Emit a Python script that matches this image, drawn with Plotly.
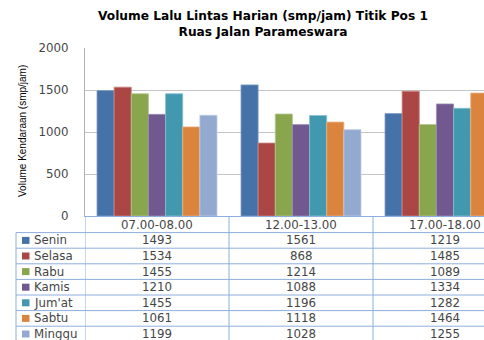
import plotly.graph_objects as go

categories = ["07.00-08.00", "12.00-13.00", "17.00-18.00"]
days = ["Senin", "Selasa", "Rabu", "Kamis", "Jum'at", "Sabtu", "Minggu"]
senin = [1493, 1561, 1219]
selasa = [1534, 868, 1485]
rabu = [1455, 1214, 1089]
kamis = [1210, 1088, 1334]
jumat = [1455, 1196, 1282]
sabtu = [1061, 1118, 1464]
minggu = [1199, 1028, 1255]
series = [senin, selasa, rabu, kamis, jumat, sabtu, minggu]
colors = ["#4572a7", "#aa4643", "#89a54e", "#71588f", "#4198af", "#db843d", "#93a9cf"]
borders = ["#7f9fc7", "#c98583", "#b1c68c", "#a08db8", "#86c0d0", "#eab28a", "#c0cde6"]
y_ticks = [0, 500, 1000, 1500, 2000]

W, H = 484, 340
L, T, B = 85, 48, 216
PW = W - L
PH = B - T
CAT_W = 144.0


def px(x):
    return (x - L) / PW


def py(y):
    return (B - y) / PH


fig = go.Figure()
for name, vals, c, bc in zip(days, series, colors, borders):
    fig.add_trace(go.Bar(name=name, x=categories, y=vals, marker=dict(color=c, line=dict(color=bc, width=0.8))))

FONT = "DejaVu Sans, Verdana, sans-serif"
TXT = "#454545"
TBL = "#8eaedc"
TS = 11.8

shapes = []
annotations = []

# table geometry
row_top = 232.6
row_h = 15.6
n_rows = len(days)
table_bottom = row_top + row_h * n_rows

# header row labels
for i, cat in enumerate(categories):
    annotations.append(dict(x=i, y=py(224.5), xref="x", yref="paper", text=cat, showarrow=False,
                            font=dict(family=FONT, size=TS, color=TXT), xanchor="center", yanchor="middle"))

# horizontal row lines
for k in range(n_rows + 1):
    yy = py(row_top + row_h * k)
    shapes.append(dict(type="line", xref="paper", yref="paper", x0=px(16), x1=1.0, y0=yy, y1=yy,
                       line=dict(color=TBL, width=1)))
# vertical lines
shapes.append(dict(type="line", xref="paper", yref="paper", x0=px(16), x1=px(16), y0=py(row_top), y1=py(table_bottom),
                   line=dict(color=TBL, width=1)))
for i in range(len(categories)):
    shapes.append(dict(type="line", xref="x", yref="paper", x0=i - 0.5, x1=i - 0.5, y0=0, y1=py(table_bottom),
                       line=dict(color=TBL, width=1)))

# rows
for k, (name, vals, c) in enumerate(zip(days, series, colors)):
    yc = row_top + row_h * (k + 0.5)
    shapes.append(dict(type="rect", xref="paper", yref="paper", x0=px(22), x1=px(29.5), y0=py(yc + 3.5), y1=py(yc - 3.5),
                       fillcolor=c, line=dict(width=0)))
    annotations.append(dict(x=px(32), y=py(yc), xref="paper", yref="paper", text=name, showarrow=False,
                            font=dict(family=FONT, size=TS, color=TXT), xanchor="left", yanchor="middle"))
    for i, v in enumerate(vals):
        annotations.append(dict(x=i, y=py(yc), xref="x", yref="paper", text=str(v), showarrow=False,
                                font=dict(family=FONT, size=TS, color=TXT), xanchor="center", yanchor="middle"))

# title
annotations.append(dict(x=px(263), y=py(24), xref="paper", yref="paper",
                        text="<b>Volume Lalu Lintas Harian (smp/jam) Titik Pos 1<br>Ruas Jalan Parameswara</b>",
                        showarrow=False, font=dict(family=FONT, size=12.2, color="#000000"),
                        xanchor="center", yanchor="middle"))
# y axis title
annotations.append(dict(x=px(22), y=py(131), xref="paper", yref="paper", text="Volume Kendaraan (smp/jam)",
                        textangle=-90, showarrow=False,
                        font=dict(family="Liberation Sans Narrow, Liberation Sans, sans-serif", size=10, color="#000000"),
                        xanchor="center", yanchor="middle"))

fig.update_layout(
    width=W, height=H,
    margin=dict(l=L, r=0, t=T, b=H - B, pad=0),
    paper_bgcolor="white", plot_bgcolor="white",
    barmode="group", bargap=24 / 144, bargroupgap=0,
    showlegend=False,
    shapes=shapes, annotations=annotations,
    xaxis=dict(type="category", range=[-0.5, -0.5 + PW / CAT_W], showticklabels=False, ticks="",
               showgrid=False, showline=True, linecolor=TBL, linewidth=1, zeroline=False, fixedrange=True),
    yaxis=dict(range=[0, 2000], tickvals=y_ticks, showgrid=True, gridcolor="#c4c4c4", gridwidth=1,
               showline=True, linecolor="#b0b0b0", linewidth=1, zeroline=False, ticks="",
               ticklabelstandoff=13, tickfont=dict(family=FONT, size=TS, color=TXT)),
)

fig.write_html("out.html")
